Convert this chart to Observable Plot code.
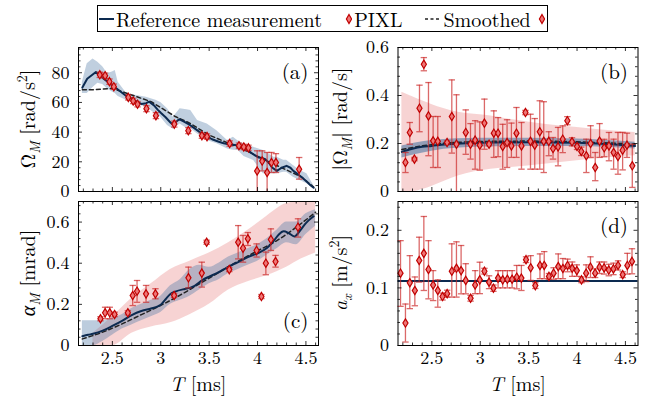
<!DOCTYPE html>
<html><head><meta charset="utf-8">
<script src="https://cdn.jsdelivr.net/npm/d3@7"></script>
<script src="https://cdn.jsdelivr.net/npm/@observablehq/plot@0.6"></script>
<style>
body{margin:0;background:#fff;}
#root{position:relative;width:647px;height:405px;font-family:'Latin Modern Roman','Liberation Serif',serif;overflow:hidden;}
#root svg.panel{position:absolute;overflow:visible;}
#legend{position:absolute;left:97px;top:5px;width:451px;height:27px;border:1px solid #000;box-sizing:border-box;display:flex;align-items:center;justify-content:center;font-size:20px;white-space:nowrap;color:#000;}
#legend span.gap{display:inline-block;width:24px;}
</style></head><body><div id="root"><div id="legend"></div></div>
<script>
// ---------- data ----------
const xDomain = [2.15, 4.63];
const xTickLabels = [2.5, 3, 3.5, 4, 4.5];
const legendLabels = ["Reference measurement", "PIXL", "Smoothed"];
const panelLabels = ["(a)", "(b)", "(c)", "(d)"];

// (a) Omega-dot
const aYTicks = [0, 20, 40, 60, 80];
const aLine = [[2.19,70],[2.24,76],[2.29,78.5],[2.33,80.5],[2.38,77.5],[2.42,75.5],[2.46,73.5],[2.51,71],[2.56,68.5],[2.6,66.5],[2.65,64],[2.7,62.5],[2.75,60.5],[2.8,59],[2.85,59.5],[2.88,60.5],[2.93,58],[2.97,55],[3.0,53],[3.05,50],[3.1,46.5],[3.12,45.3],[3.15,46.5],[3.19,48.7],[3.24,47],[3.29,45.3],[3.35,42.5],[3.41,39.7],[3.47,37.5],[3.53,35.2],[3.6,33.5],[3.65,32.5],[3.7,31.9],[3.75,31.5],[3.81,30.8],[3.87,28.5],[3.93,26.3],[3.97,24.5],[4.01,22.9],[4.05,22.5],[4.08,21.8],[4.12,19],[4.15,16.2],[4.2,13.9],[4.25,16],[4.3,17.3],[4.34,16],[4.37,13.9],[4.42,11.5],[4.46,9.4],[4.51,6.5],[4.55,4],[4.58,2.5]];
const aBand = [[2.19,66,73.6],[2.24,66,86],[2.3,70,89.3],[2.35,73,87],[2.4,72,84],[2.45,69,79.5],[2.5,67,80.5],[2.53,66,81.5],[2.56,64,73.6],[2.65,61.3,65.8],[2.75,58.5,64.6],[2.85,57,63.5],[2.95,52,61.5],[3.0,50,60],[3.07,44.4,55.7],[3.13,42,50],[3.2,45.5,55.7],[3.27,42.5,55],[3.31,42.2,54.6],[3.38,38.8,47.8],[3.48,34.3,45.5],[3.58,32.1,41],[3.69,28.7,34.3],[3.75,27.8,36.5],[3.8,27.6,34],[3.86,23.5,32],[3.96,20.8,29.8],[4.06,12,27.6],[4.1,11.9,26],[4.17,11.9,23],[4.2,11.9,23],[4.27,13,21],[4.3,13,21],[4.37,9.6,17.5],[4.44,7.4,14.1],[4.51,5.2,11.9],[4.58,2,4]];
const aSmooth = [[2.19,68.5],[2.3,68.6],[2.4,69],[2.5,69.5],[2.7,65],[2.9,60.5],[3.15,50.5],[3.3,46],[3.5,38],[3.7,32.5],[3.9,27],[4.1,20.5],[4.3,14.5],[4.45,10],[4.58,3]];
const aPixl = [[2.37,78.6,76.8,80.4],[2.425,78,76.2,79.8],[2.47,74,72.2,75.8],[2.515,70.6,68.8,72.4],[2.665,63.4,61.6,65.2],[2.715,61,59.2,62.8],[2.76,58.8,57,60.6],[2.852,55.8,53.8,57.8],[2.95,51.1,49.1,53.1],[3.14,45.4,43.4,47.4],[3.285,41,39,43],[3.425,37.6,35.8,39.4],[3.478,37,35.2,38.8],[3.712,32.3,30.5,34.1],[3.808,30.8,29,32.6],[3.858,30,28.2,31.8],[3.906,29.4,27.6,31.2],[3.996,13.8,-4,27.4],[4.048,20.5,13.9,27.4],[4.099,12.8,-4,26.3],[4.144,19.5,12.8,26.3],[4.19,19.5,12.8,25.5],[4.43,15,8.3,22.9]];

// (b) |Omega|
const bYTicks = [0, 0.2, 0.4, 0.6];
const bLine = [[2.19,0.165],[2.3,0.178],[2.4,0.186],[2.5,0.19],[2.6,0.195],[2.8,0.2],[3.0,0.203],[3.5,0.205],[4.0,0.203],[4.3,0.198],[4.6,0.19]];
const bSmooth = [[2.19,0.175],[2.4,0.19],[2.6,0.2],[3.0,0.208],[3.5,0.21],[4.0,0.207],[4.6,0.197]];
const bBand = [[2.19,0.14,0.19],[2.5,0.168,0.213],[3.0,0.185,0.222],[3.5,0.188,0.222],[4.0,0.187,0.219],[4.6,0.177,0.205]];
const bPink = [[2.19,0,0.414],[2.3,0,0.395],[2.42,0.01,0.375],[2.49,0.02,0.364],[2.77,0.065,0.33],[3.11,0.093,0.315],[3.32,0.1,0.3],[3.66,0.114,0.28],[4.0,0.128,0.267],[4.35,0.142,0.253],[4.6,0.149,0.246]];
const bPixl = [[2.227,0.121,0.079,0.1625],[2.272,0.246,0.197,0.2875],[2.32,0.135,0.128,0.142],[2.372,0.347,0.249,0.443],[2.417,0.53,0.503,0.558],[2.465,0.315,0.149,0.454],[2.513,0.211,0.1,0.3125],[2.561,0.209,0.1,0.3125],[2.657,0.204,0.197,0.211],[2.706,0.3125,0.16,0.465],[2.754,0.197,-0.02,0.403],[2.85,0.246,0.155,0.34],[2.899,0.197,0.135,0.283],[2.947,0.214,0.093,0.295],[2.995,0.193,0.089,0.29],[3.043,0.285,0.176,0.385],[3.091,0.197,0.19,0.204],[3.14,0.243,0.142,0.336],[3.184,0.243,0.145,0.308],[3.232,0.1875,0.093,0.28],[3.277,0.204,0.1,0.299],[3.322,0.19,0.142,0.285],[3.374,0.243,0.142,0.35],[3.426,0.19,0.093,0.2875],[3.467,0.329,0.32,0.338],[3.519,0.209,0.093,0.322],[3.563,0.193,0.093,0.304],[3.615,0.249,0.093,0.378],[3.656,0.209,0.079,0.374],[3.708,0.209,0.149,0.249],[3.752,0.179,0.135,0.225],[3.804,0.186,0.107,0.267],[3.852,0.218,0.162,0.2735],[3.9,0.295,0.278,0.312],[3.948,0.207,0.19,0.224],[4.0,0.1875,0.175,0.2],[4.044,0.167,0.15,0.185],[4.096,0.149,0.079,0.218],[4.14,0.2,0.142,0.274],[4.188,0.1,0.045,0.1625],[4.233,0.21,0.142,0.283],[4.281,0.182,0.145,0.2175],[4.33,0.19,0.128,0.246],[4.378,0.1625,0.093,0.218],[4.423,0.146,0.072,0.246],[4.471,0.172,0.09,0.246],[4.516,0.193,0.142,0.243],[4.571,0.107,0.017,0.197]];

// (c) alpha_M
const cYTicks = [0, 0.2, 0.4, 0.6];
const cLine = [[2.19,0.045],[2.25,0.052],[2.3,0.057],[2.4,0.072],[2.5,0.095],[2.6,0.12],[2.7,0.148],[2.8,0.168],[2.9,0.18],[2.97,0.19],[3.0,0.198],[3.05,0.225],[3.1,0.25],[3.15,0.262],[3.25,0.275],[3.3,0.28],[3.35,0.29],[3.43,0.318],[3.5,0.335],[3.58,0.352],[3.65,0.37],[3.75,0.395],[3.8,0.405],[3.9,0.43],[4.0,0.448],[4.1,0.475],[4.17,0.51],[4.22,0.54],[4.27,0.555],[4.32,0.547],[4.38,0.53],[4.45,0.565],[4.5,0.595],[4.58,0.628]];
const cSmooth = [[2.19,0.032],[2.4,0.065],[2.6,0.105],[2.8,0.15],[3.0,0.195],[3.2,0.245],[3.4,0.3],[3.6,0.355],[3.8,0.41],[4.0,0.46],[4.2,0.51],[4.4,0.575],[4.6,0.648]];
const cBand = [[2.19,0,0.12],[2.3,0,0.12],[2.4,0.02,0.12],[2.5,0.05,0.135],[2.6,0.08,0.15],[2.7,0.1,0.18],[2.8,0.12,0.2],[2.9,0.14,0.22],[3.0,0.16,0.24],[3.1,0.2,0.29],[3.2,0.22,0.32],[3.3,0.24,0.37],[3.4,0.27,0.39],[3.5,0.3,0.38],[3.6,0.32,0.4],[3.7,0.35,0.43],[3.8,0.37,0.45],[3.9,0.39,0.47],[4.0,0.41,0.49],[4.1,0.44,0.52],[4.2,0.47,0.56],[4.3,0.5,0.6],[4.4,0.49,0.6],[4.5,0.54,0.64],[4.6,0.58,0.66]];
const cPink = [[2.3,0,0.06],[2.5,0,0.14],[2.7,0.06,0.23],[2.9,0.09,0.3],[3.1,0.11,0.37],[3.3,0.15,0.41],[3.5,0.2,0.45],[3.7,0.27,0.5],[3.9,0.31,0.56],[4.1,0.34,0.63],[4.3,0.38,0.69],[4.45,0.42,0.72],[4.6,0.45,0.72]];
const cPixl = [[2.377,0.13,0.12,0.14],[2.425,0.159,0.13,0.186],[2.473,0.159,0.13,0.186],[2.523,0.151,0.14,0.162],[2.66,0.159,0.149,0.169],[2.71,0.243,0.194,0.292],[2.755,0.264,0.21,0.316],[2.848,0.251,0.21,0.292],[2.945,0.251,0.227,0.276],[3.138,0.243,0.233,0.253],[3.286,0.329,0.28,0.381],[3.424,0.352,0.284,0.405],[3.474,0.502,0.492,0.512],[3.708,0.369,0.359,0.379],[3.8,0.502,0.421,0.583],[3.85,0.473,0.405,0.535],[3.9,0.519,0.486,0.549],[3.99,0.462,0.43,0.494],[4.04,0.238,0.228,0.248],[4.086,0.4,0.344,0.454],[4.138,0.515,0.462,0.567],[4.186,0.408,0.381,0.438],[4.418,0.575,0.527,0.616]];

// (d) a_x
const dYTicks = [0, 0.1, 0.2];
const dRef = [0.112];
const dPixl = [[2.176,0.1256,0.068,0.182],[2.227,0.039,0.006,0.072],[2.272,0.109,0.064,0.156],[2.324,0.0955,0.069,0.119],[2.369,0.1476,0.11,0.188],[2.417,0.16,0.0955,0.224],[2.465,0.132,0.081,0.182],[2.513,0.105,0.078,0.13],[2.561,0.0955,0.0665,0.114],[2.61,0.085,0.079,0.091],[2.658,0.09,0.084,0.096],[2.706,0.129,0.084,0.1765],[2.754,0.134,0.084,0.18],[2.802,0.13,0.0897,0.1736],[2.85,0.113,0.0897,0.142],[2.9,0.082,0.077,0.087],[2.947,0.105,0.09,0.13],[2.995,0.114,0.09,0.1446],[3.043,0.129,0.124,0.134],[3.091,0.11,0.0987,0.121],[3.136,0.0995,0.094,0.105],[3.184,0.117,0.1,0.13],[3.232,0.114,0.1,0.13],[3.28,0.115,0.1,0.13],[3.329,0.115,0.1,0.13],[3.377,0.1186,0.0984,0.139],[3.425,0.117,0.0955,0.139],[3.473,0.149,0.144,0.154],[3.521,0.135,0.113,0.156],[3.569,0.104,0.099,0.109],[3.617,0.139,0.116,0.159],[3.661,0.139,0.116,0.163],[3.71,0.12,0.115,0.125],[3.758,0.1256,0.115,0.135],[3.806,0.137,0.116,0.159],[3.854,0.1337,0.116,0.151],[3.902,0.139,0.128,0.15],[3.95,0.134,0.12,0.145],[3.998,0.13,0.12,0.14],[4.046,0.114,0.109,0.119],[4.094,0.1256,0.111,0.14],[4.139,0.136,0.118,0.154],[4.187,0.1256,0.118,0.133],[4.232,0.136,0.125,0.145],[4.28,0.1347,0.124,0.145],[4.328,0.131,0.121,0.141],[4.376,0.133,0.123,0.143],[4.424,0.139,0.131,0.147],[4.472,0.123,0.118,0.128],[4.52,0.139,0.124,0.16],[4.568,0.146,0.1245,0.168]];

// ---------- styles ----------
const FONT = "'Latin Modern Roman', 'Liberation Serif', serif";
const NAVY = "#0c2a50";
const BAND = "#4f79a5";
const PINK = "#e05050";
const ERR = "#cc2a2a";
const MK_STROKE = "#c00000";
const MK_FILL = "#ee7777";

const thinDiamond = {draw(ctx, size) {const r = Math.sqrt(size / Math.PI); ctx.moveTo(0, -r * 1.3); ctx.lineTo(r * 0.8, 0); ctx.lineTo(0, r * 1.3); ctx.lineTo(-r * 0.8, 0); ctx.closePath();}};
const capSymbol = {draw(ctx, size) {const r = Math.sqrt(size / Math.PI); ctx.moveTo(-r, 0); ctx.lineTo(r, 0);}};

const xMinor = d3.range(22, 47).map(i => i / 10).filter(v => !xTickLabels.some(t => Math.abs(t - v) < 1e-9));

function pixlMarks(rows, dom) {
  const clampY = v => Math.max(dom[0], Math.min(dom[1], v));
  return [
    Plot.ruleX(rows, {x: d => d[0], y1: d => clampY(d[2]), y2: d => clampY(d[3]), stroke: ERR, strokeOpacity: 0.7, strokeWidth: 1.3}),
    Plot.dot(rows.filter(d => d[2] >= dom[0]), {x: d => d[0], y: d => d[2], symbol: capSymbol, r: 3.2, stroke: ERR, strokeOpacity: 0.7, strokeWidth: 1.3, fill: "none"}),
    Plot.dot(rows.filter(d => d[3] <= dom[1]), {x: d => d[0], y: d => d[3], symbol: capSymbol, r: 3.2, stroke: ERR, strokeOpacity: 0.7, strokeWidth: 1.3, fill: "none"}),
    Plot.dot(rows, {x: d => d[0], y: d => d[1], symbol: thinDiamond, r: 3.2, stroke: MK_STROKE, strokeWidth: 1.2, fill: MK_FILL})
  ];
}

function panel({width, height, ml, mr, mt, mb, yDomain, yTicks, minorStep, showX, label, labelPos, marks}) {
  const H = height - mt - mb, W = width - ml - mr;
  const yMinor = d3.range(Math.round((yDomain[1] - yDomain[0]) / minorStep) + 1).map(i => yDomain[0] + i * minorStep)
    .filter(v => v <= yDomain[1] + 1e-9 && !yTicks.some(t => Math.abs(t - v) < 1e-9));
  const tk = {stroke: "#000", strokeWidth: 0.8};
  const all = [
    ...marks,
    Plot.ruleX(xTickLabels, {x: d => d, insetTop: H - 4, ...tk}),
    Plot.ruleX(xTickLabels, {x: d => d, insetBottom: H - 4, ...tk}),
    Plot.ruleX(xMinor, {x: d => d, insetTop: H - 2.5, ...tk}),
    Plot.ruleX(xMinor, {x: d => d, insetBottom: H - 2.5, ...tk}),
    Plot.ruleY(yTicks, {y: d => d, insetRight: W - 4, ...tk}),
    Plot.ruleY(yTicks, {y: d => d, insetLeft: W - 4, ...tk}),
    Plot.ruleY(yMinor, {y: d => d, insetRight: W - 2.5, ...tk}),
    Plot.ruleY(yMinor, {y: d => d, insetLeft: W - 2.5, ...tk}),
    Plot.frame({stroke: "#000", strokeWidth: 1}),
    Plot.axisY(yTicks, {anchor: "left", tickSize: 0, tickPadding: 9, label: null, fontSize: 18, tickFormat: d => String(d)}),
    Plot.text([label], {frameAnchor: labelPos === "top" ? "top-right" : "bottom-right", text: d => d, textAnchor: "end", dx: -10, dy: labelPos === "top" ? 25 : -24, fontSize: 21, lineAnchor: "middle"})
  ];
  if (showX) all.push(Plot.axisX(xTickLabels, {anchor: "bottom", tickSize: 0, tickPadding: 6, label: null, fontSize: 18, tickFormat: d => String(d)}));
  const svg = Plot.plot({
    width, height, marginLeft: ml, marginRight: mr, marginTop: mt, marginBottom: mb,
    x: {domain: xDomain, axis: null},
    y: {domain: yDomain, axis: null},
    style: {fontFamily: FONT, fontSize: "18px", background: "transparent", overflow: "visible", color: "#000"},
    marks: all
  });
  svg.classList.add("panel");
  svg.querySelectorAll("text").forEach(t => t.style.fontFamily = FONT);
  return svg;
}

function richText(svg, {x, y, rotate, size, parts}) {
  const t = d3.select(svg).append("text")
    .attr("transform", `translate(${x},${y})` + (rotate ? " rotate(-90)" : ""))
    .attr("text-anchor", "middle").style("font-family", FONT).attr("font-size", size).attr("fill", "#000");
  let shift = 0;
  for (const p of parts) {
    const target = p.sub ? size * 0.25 : p.sup ? -size * 0.4 : 0;
    const ts = t.append("tspan").text(p.t).attr("dy", target - shift);
    shift = target;
    if (p.sub || p.sup) ts.attr("font-size", size * 0.7);
    if (p.it) ts.attr("font-style", "italic");
  }
}

const root = document.getElementById("root");
function place(svg, left, top) {svg.style.left = left + "px"; svg.style.top = top + "px"; root.appendChild(svg);}

// (a)
const aDom = [0, 97];
const svgA = panel({width: 330, height: 160, ml: 78, mr: 12, mt: 7, mb: 9, yDomain: aDom, yTicks: aYTicks, minorStep: 4, showX: false, label: panelLabels[0], labelPos: "top",
  marks: [
    Plot.areaY(aBand, {x: d => d[0], y1: d => d[1], y2: d => d[2], fill: BAND, fillOpacity: 0.36}),
    Plot.line(aSmooth, {x: d => d[0], y: d => d[1], stroke: "#222", strokeWidth: 1.5, strokeDasharray: "4,3"}),
    Plot.line(aLine, {x: d => d[0], y: d => d[1], stroke: NAVY, strokeWidth: 2}),
    ...pixlMarks(aPixl, aDom)
  ]});
place(svgA, 0, 40);
// (b)
const bDom = [0, 0.6];
const svgB = panel({width: 317, height: 160, ml: 67.5, mr: 9.5, mt: 7, mb: 9, yDomain: bDom, yTicks: bYTicks, minorStep: 0.04, showX: false, label: panelLabels[1], labelPos: "top",
  marks: [
    Plot.areaY(bPink, {x: d => d[0], y1: d => d[1], y2: d => d[2], fill: PINK, fillOpacity: 0.25, curve: "monotone-x"}),
    Plot.areaY(bBand, {x: d => d[0], y1: d => d[1], y2: d => d[2], fill: BAND, fillOpacity: 0.6, curve: "monotone-x"}),
    Plot.line(bSmooth, {x: d => d[0], y: d => d[1], stroke: "#222", strokeWidth: 1.5, strokeDasharray: "4,3", curve: "monotone-x"}),
    Plot.line(bLine, {x: d => d[0], y: d => d[1], stroke: NAVY, strokeWidth: 2, curve: "monotone-x"}),
    ...pixlMarks(bPixl, bDom)
  ]});
place(svgB, 330, 40);
// (c)
const cDom = [0, 0.7];
const svgC = panel({width: 330, height: 210, ml: 78, mr: 12, mt: 6, mb: 60, yDomain: cDom, yTicks: cYTicks, minorStep: 0.04, showX: true, label: panelLabels[2], labelPos: "bottom",
  marks: [
    Plot.areaY(cPink, {x: d => d[0], y1: d => d[1], y2: d => Math.min(d[2], cDom[1]), fill: PINK, fillOpacity: 0.25, curve: "monotone-x"}),
    Plot.areaY(cBand, {x: d => d[0], y1: d => d[1], y2: d => d[2], fill: BAND, fillOpacity: 0.38, curve: "monotone-x"}),
    Plot.line(cSmooth, {x: d => d[0], y: d => d[1], stroke: "#222", strokeWidth: 1.5, strokeDasharray: "4,3", curve: "monotone-x"}),
    Plot.line(cLine, {x: d => d[0], y: d => d[1], stroke: NAVY, strokeWidth: 2, curve: "monotone-x"}),
    ...pixlMarks(cPixl, cDom)
  ]});
place(svgC, 0, 195);
// (d)
const dDom = [0, 0.25];
const svgD = panel({width: 317, height: 210, ml: 67.5, mr: 9.5, mt: 6, mb: 60, yDomain: dDom, yTicks: dYTicks, minorStep: 0.02, showX: true, label: panelLabels[3], labelPos: "top",
  marks: [
    Plot.ruleY(dRef, {y: d => d, stroke: NAVY, strokeWidth: 2}),
    ...pixlMarks(dPixl, dDom)
  ]});
place(svgD, 330, 195);

// axis titles
richText(svgA, {x: 35, y: 79, rotate: true, size: 20, parts: [{t: "Ω̇"}, {t: "M", sub: true, it: true}, {t: " [rad/s"}, {t: "2", sup: true}, {t: "]"}]});
richText(svgB, {x: 17, y: 79, rotate: true, size: 20, parts: [{t: "|Ω"}, {t: "M", sub: true, it: true}, {t: "| [rad/s]"}]});
richText(svgC, {x: 35, y: 78, rotate: true, size: 20, parts: [{t: "α", it: true}, {t: "M", sub: true, it: true}, {t: " [mrad]"}]});
richText(svgD, {x: 17, y: 78, rotate: true, size: 20, parts: [{t: "a", it: true}, {t: "x", sub: true, it: true}, {t: " [m/s"}, {t: "2", sup: true}, {t: "]"}]});
richText(svgC, {x: 198, y: 196, rotate: false, size: 20, parts: [{t: "T", it: true}, {t: " [ms]"}]});
richText(svgD, {x: 187.5, y: 196, rotate: false, size: 20, parts: [{t: "T", it: true}, {t: " [ms]"}]});

// legend
const lg = document.getElementById("legend");
lg.style.fontFamily = FONT;
const diamondSvg = `<svg width="8" height="12" style="margin:0 2px"><path d="M4,1.5 L6.6,6 L4,10.5 L1.4,6 Z" fill="${MK_FILL}" stroke="${MK_STROKE}" stroke-width="1.2"/></svg>`;
lg.innerHTML =
  `<svg width="18" height="10" style="margin-right:2px"><line x1="1" y1="5" x2="17" y2="5" stroke="${NAVY}" stroke-width="2"/></svg>` +
  `<span>${legendLabels[0]}</span><span class="gap"></span>` +
  diamondSvg + `<span>${legendLabels[1]}</span><span class="gap"></span>` +
  `<svg width="20" height="10" style="margin-right:2px"><line x1="1" y1="5" x2="19" y2="5" stroke="#222" stroke-width="1.5" stroke-dasharray="3,2.5"/></svg>` +
  `<span>${legendLabels[2]}</span>` + `<span style="display:inline-block;width:6px"></span>` + diamondSvg;
</script>
</body></html>
